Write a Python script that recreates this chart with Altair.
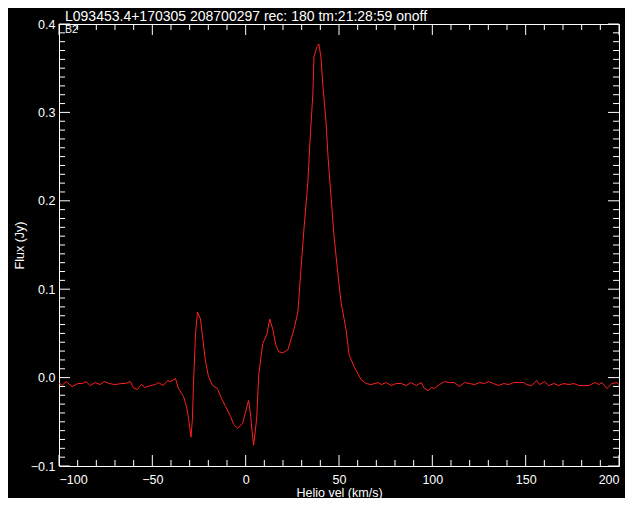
import altair as alt
import pandas as pd

title_text = "L093453.4+170305 208700297 rec: 180 tm:21:28:59 onoff"
corner_text = "B2"
x_title = "Helio vel (km/s)"
y_title = "Flux (Jy)"

vel = [-100.0, -98.4, -96.2, -93.0, -89.8, -87.6, -85.5, -83.3, -80.6, -78.0,
       -75.8, -73.1, -69.9, -66.7, -64.5, -61.8, -60.2, -58.1, -55.9, -53.8,
       -51.1, -48.4, -46.8, -44.1, -41.9, -40.3, -37.6, -36.0, -33.3, -31.7,
       -30.6, -29.3, -28.5, -28.0, -26.9, -25.8, -24.2, -23.1, -21.5, -19.9,
       -17.7, -15.1, -13.4, -10.8, -8.1, -6.5, -4.3, -1.6, 0.0, 1.6,
       2.7, 3.8, 4.3, 5.9, 7.0, 8.1, 9.1, 11.3, 12.9, 14.5,
       16.1, 17.7, 19.9, 22.6, 24.2, 25.8, 28.0, 29.6, 31.2, 33.3,
       34.4, 36.0, 36.6, 38.2, 39.2, 40.3, 41.4, 43.0, 44.1, 45.7,
       47.3, 49.5, 51.1, 53.8, 55.4, 58.1, 61.8, 64.5, 67.2, 71.0,
       72.6, 75.3, 78.0, 80.6, 83.3, 86.0, 88.7, 91.4, 94.1, 95.7,
       97.8, 99.5, 101.1, 103.8, 106.5, 109.1, 111.8, 114.5, 117.2, 119.9,
       122.6, 125.3, 128.0, 130.1, 132.8, 135.5, 138.2, 140.9, 143.5, 146.2,
       148.9, 150.5, 153.2, 155.9, 157.5, 160.2, 162.4, 165.1, 167.7, 170.4,
       173.1, 175.8, 178.5, 181.2, 183.9, 187.1, 189.2, 190.9, 193.5, 196.2,
       198.9, 200.0]

flux = [-0.0056, -0.0090, -0.0045, -0.0101, -0.0067, -0.0067, -0.0045, -0.0090, -0.0056, -0.0079,
        -0.0045, -0.0067, -0.0079, -0.0067, -0.0067, -0.0045, -0.0112, -0.0135, -0.0079, -0.0112,
        -0.0090, -0.0079, -0.0056, -0.0090, -0.0034, -0.0045, -0.0011, -0.0124, -0.0213, -0.0326,
        -0.0461, -0.0674, -0.0461, -0.0101, 0.0483, 0.0742, 0.0663, 0.0461, 0.0180, 0.0011,
        -0.0090, -0.0124, -0.0213, -0.0326, -0.0438, -0.0528, -0.0573, -0.0517, -0.0382, -0.0258,
        -0.0438, -0.0685, -0.0764, -0.0461, 0.0034, 0.0213, 0.0382, 0.0483, 0.0663, 0.0551,
        0.0371, 0.0292, 0.0281, 0.0315, 0.0427, 0.0539, 0.0742, 0.1225, 0.1674, 0.2202,
        0.2652, 0.3213, 0.3629, 0.3742, 0.3775, 0.3629, 0.3292, 0.2910, 0.2506, 0.2056,
        0.1607, 0.1157, 0.0854, 0.0539, 0.0258, 0.0124, -0.0022, -0.0067, -0.0079, -0.0056,
        -0.0079, -0.0056, -0.0090, -0.0067, -0.0067, -0.0090, -0.0056, -0.0090, -0.0056, -0.0124,
        -0.0146, -0.0112, -0.0124, -0.0079, -0.0045, -0.0056, -0.0056, -0.0101, -0.0056, -0.0067,
        -0.0079, -0.0056, -0.0067, -0.0045, -0.0067, -0.0090, -0.0067, -0.0079, -0.0056, -0.0056,
        -0.0056, -0.0079, -0.0090, -0.0034, -0.0079, -0.0045, -0.0090, -0.0067, -0.0090, -0.0067,
        -0.0079, -0.0067, -0.0090, -0.0090, -0.0090, -0.0056, -0.0079, -0.0056, -0.0124, -0.0067,
        -0.0056, -0.0079]

x_major = [-100, -50, 0, 50, 100, 150, 200]
x_minor = [-90, -80, -70, -60, -40, -30, -20, -10, 10, 20, 30, 40,
           60, 70, 80, 90, 110, 120, 130, 140, 160, 170, 180, 190]
y_major = [-0.1, 0.0, 0.1, 0.2, 0.3, 0.4]
y_minor = [-0.09, -0.08, -0.07, -0.06, -0.05, -0.04, -0.03, -0.02, -0.01,
           0.01, 0.02, 0.03, 0.04, 0.05, 0.06, 0.07, 0.08, 0.09,
           0.11, 0.12, 0.13, 0.14, 0.15, 0.16, 0.17, 0.18, 0.19,
           0.21, 0.22, 0.23, 0.24, 0.25, 0.26, 0.27, 0.28, 0.29,
           0.31, 0.32, 0.33, 0.34, 0.35, 0.36, 0.37, 0.38, 0.39]

W, H = 560, 442
MAJ, MIN = 11, 6
FONT = "Liberation Sans"

spec = pd.DataFrame({"vel": vel, "flux": flux})
xmaj = pd.DataFrame({"v": x_major})
xmin = pd.DataFrame({"v": x_minor})
ymaj = pd.DataFrame({"v": y_major})
ymin = pd.DataFrame({"v": y_minor})

xscale = alt.Scale(domain=[-100, 200], nice=False, zero=False)
yscale = alt.Scale(domain=[-0.1, 0.4], nice=False, zero=False)

line = alt.Chart(spec).mark_line(color="#ff2020", strokeWidth=1, clip=True).encode(
    x=alt.X("vel:Q", scale=xscale,
            axis=alt.Axis(values=x_major, title=x_title, ticks=False, tickSize=0,
                          domain=False, grid=False, labelPadding=7,
                          titleY=30, titleBaseline="alphabetic")),
    y=alt.Y("flux:Q", scale=yscale,
            axis=alt.Axis(values=y_major, format=".1f", title=y_title, ticks=False,
                          tickSize=0, domain=False, grid=False, labelPadding=4,
                          titleX=-40, titleBaseline="middle")),
)

def xticks(df, length, top):
    y0 = 0 if top else H
    y1 = length if top else H - length
    return alt.Chart(df).mark_rule(color="white", strokeWidth=1).encode(
        x=alt.X("v:Q", scale=xscale, axis=None),
        y=alt.value(y0), y2=alt.value(y1))

def yticks(df, length, right):
    x0 = W if right else 0
    x1 = W - length if right else length
    return alt.Chart(df).mark_rule(color="white", strokeWidth=1).encode(
        y=alt.Y("v:Q", scale=yscale, axis=None),
        x=alt.value(x0), x2=alt.value(x1))

ticks = [
    xticks(xmaj, MAJ, False), xticks(xmin, MIN, False),
    xticks(xmaj, MAJ, True), xticks(xmin, MIN, True),
    yticks(ymaj, MAJ, False), yticks(ymin, MIN, False),
    yticks(ymaj, MAJ, True), yticks(ymin, MIN, True),
]

title_mark = alt.Chart(pd.DataFrame({"t": [title_text]})).mark_text(
    align="left", baseline="alphabetic", color="white", font=FONT, fontSize=14
).encode(text="t:N", x=alt.value(6), y=alt.value(-3))

corner_mark = alt.Chart(pd.DataFrame({"t": [corner_text]})).mark_text(
    align="left", baseline="top", color="white", font=FONT, fontSize=10.5
).encode(text="t:N", x=alt.value(6), y=alt.value(1))

chart = alt.layer(line, *ticks, title_mark, corner_mark).resolve_axis(
    x="independent", y="independent"
).properties(
    width=W, height=H,
    autosize=alt.AutoSizeParams(type="none"),
    padding={"left": 51, "top": 16, "right": 6, "bottom": 32},
    background="black",
).configure_view(
    stroke="white", strokeWidth=1
).configure_axis(
    labelColor="white", titleColor="white", labelFont=FONT, titleFont=FONT,
    labelFontSize=12.5, titleFontSize=12.5, titleFontWeight="normal",
)

chart.save("out.html", embed_options={"renderer": "svg", "actions": False})
